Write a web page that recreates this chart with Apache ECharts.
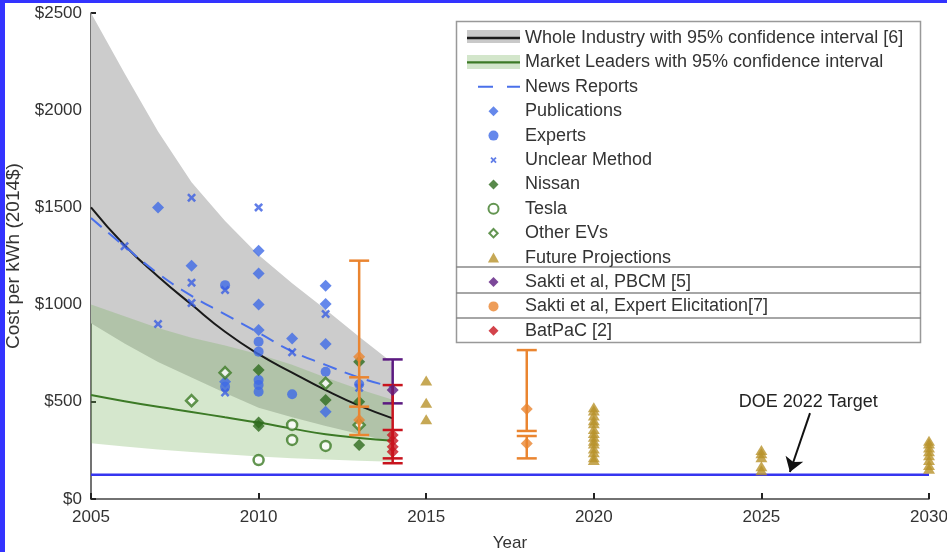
<!DOCTYPE html>
<html>
<head>
<meta charset="utf-8">
<title>Battery pack cost per kWh</title>
<script src="https://cdn.jsdelivr.net/npm/echarts@6.0.0/dist/echarts.min.js"></script>
<style>
  html, body { margin: 0; padding: 0; background: #fff; }
  #wrap { position: relative; width: 947px; height: 552px; overflow: hidden; }
  #chart { position: absolute; left: 0; top: 0; width: 947px; height: 552px; }
  .frame-top { position: absolute; left: 0; top: 0; width: 947px; height: 3px; background: #3333ff; }
  .frame-left { position: absolute; left: 0; top: 0; width: 5px; height: 552px; background: #3333ff; }
</style>
</head>
<body>
<div id="wrap">
  <div id="chart"></div>
  <div class="frame-top"></div>
  <div class="frame-left"></div>
</div>
<script>
// fitted curves, read at each year
const years = [2005, 2006, 2007, 2008, 2009, 2010, 2011, 2012, 2013, 2014];
const wholeIndustry = [1500, 1305, 1145, 1000, 860, 745, 650, 560, 480, 415];
const wholeUpper = [2500, 2190, 1890, 1630, 1430, 1255, 1110, 975, 835, 700];
const wholeLower = [904, 800, 705, 625, 545, 470, 420, 375, 335, 290];
const leaders = [535, 503, 474, 448, 420, 393, 362, 333, 314, 300];
const leadersUpper = [1000, 940, 880, 830, 790, 745, 690, 625, 565, 510];
const leadersLower = [287, 270, 255, 242, 230, 218, 210, 203, 197, 192];
const newsReports = [1445, 1300, 1160, 1045, 950, 855, 760, 690, 625, 575];

// DOE target
const doeYears = [2005, 2030];
const doeTarget = 125;

// scatter points [year, $/kWh]
const publications = [[2007, 1500], [2008, 1200], [2009, 603], [2010, 1277], [2010, 1160], [2010, 1000], [2010, 869],
  [2011, 826], [2012, 1097], [2012, 1003], [2012, 797], [2012, 449]];
const experts = [[2009, 1100], [2009, 578], [2010, 809], [2010, 758], [2010, 612], [2010, 586], [2010, 552],
  [2011, 539], [2012, 655], [2013, 590]];
const unclear = [[2006, 1300], [2007, 900], [2008, 1550], [2008, 1113], [2008, 1008], [2009, 1075], [2009, 548],
  [2010, 1500], [2011, 755], [2012, 952], [2013, 572]];
const nissan = [[2010, 664], [2010, 393], [2010, 376], [2012, 509], [2013, 706], [2013, 500], [2013, 278]];
const tesla = [[2010, 200], [2011, 381], [2011, 304], [2012, 273]];
const otherEVs = [[2008, 506], [2009, 650], [2012, 595], [2013, 381]];
const future = [[2015, 609], [2015, 495], [2015, 410],
  [2020, 472], [2020, 455], [2020, 430], [2020, 405], [2020, 390], [2020, 360], [2020, 340], [2020, 320],
  [2020, 300], [2020, 285], [2020, 260], [2020, 240], [2020, 215], [2020, 200],
  [2025, 252], [2025, 235], [2025, 215], [2025, 168], [2025, 148],
  [2030, 300], [2030, 285], [2030, 265], [2030, 245], [2030, 225], [2030, 200], [2030, 175], [2030, 155]];

// error bars [year, value, low, high]
const saktiPbcm = [[2014, 561, 492, 718]];
const saktiExpert = [[2013, 732, 475, 1226], [2013, 406, 329, 626], [2018, 463, 350, 766], [2018, 286, 209, 324]];
const batpac = [[2014, 300, 184, 586], [2014, 269, 209, 355]];
const batpacExtra = [[2014, 329], [2014, 243]];

// arrow for the DOE label
const arrowFrom = [2026.45, 442];
const arrowTo = [2025.85, 139];
const labelAt = [2026.4, 498];

const font = 'Liberation Sans, Arial, Helvetica, sans-serif';
const blue = '#3f6ae6';
const green = '#3c7a26';
const xPath = 'path://M0,2L2,0L5,3L8,0L10,2L7,5L10,8L8,10L5,7L2,10L0,8L3,5Z';
const diamondIcon = 'path://M5,0L10,5L5,10L0,5Z';
const triangleIcon = 'path://M5,0L10,9L0,9Z';

const N1 = 'Whole Industry with 95% confidence interval [6]';
const N2 = 'Market Leaders with 95% confidence interval';

function bandItem(lower, upper, fill) {
  return function (params, api) {
    if (params.dataIndex !== 0) return null;
    const top = years.map((y, i) => api.coord([y, upper[i]]));
    const bottom = years.map((y, i) => api.coord([y, lower[i]])).reverse();
    return { type: 'polygon', shape: { points: top.concat(bottom) }, style: { fill: fill } };
  };
}

function errorBar(color) {
  return function (params, api) {
    const x = api.value(0);
    const lo = api.coord([x, api.value(2)]);
    const hi = api.coord([x, api.value(3)]);
    const w = 10;
    const st = { stroke: color, lineWidth: 2.5 };
    return {
      type: 'group',
      children: [
        { type: 'line', shape: { x1: lo[0], y1: lo[1], x2: hi[0], y2: hi[1] }, style: st },
        { type: 'line', shape: { x1: lo[0] - w, y1: lo[1], x2: lo[0] + w, y2: lo[1] }, style: st },
        { type: 'line', shape: { x1: hi[0] - w, y1: hi[1], x2: hi[0] + w, y2: hi[1] }, style: st }
      ]
    };
  };
}

const pairs = (vals) => years.map((y, i) => [y, vals[i]]);
const bandData = (lo, hi) => years.map((y, i) => [y, lo[i], hi[i]]);

const chart = echarts.init(document.getElementById('chart'));

const option = {
  animation: false,
  textStyle: { fontFamily: font },
  grid: { left: 91, right: 18, top: 13, bottom: 53, outerBoundsMode: 'none' },
  xAxis: {
    type: 'value', min: 2005, max: 2030, interval: 5,
    name: 'Year', nameLocation: 'middle', nameGap: 36,
    nameTextStyle: { fontSize: 17, color: '#333', fontFamily: font },
    axisLine: { lineStyle: { color: '#444', width: 1.5 } },
    axisTick: { inside: true, length: 6, lineStyle: { color: '#222', width: 2 } },
    axisLabel: { color: '#333', fontSize: 17, margin: 10, fontFamily: font, formatter: (v) => String(v) },
    splitLine: { show: false }
  },
  yAxis: {
    type: 'value', min: 0, max: 2500, interval: 500,
    name: 'Cost per kWh (2014$)', nameLocation: 'middle', nameGap: 68,
    nameTextStyle: { fontSize: 19, color: '#333', fontFamily: font },
    axisLine: { show: true, lineStyle: { color: '#444', width: 1.5 } },
    axisTick: { show: true, inside: true, length: 5, lineStyle: { color: '#222', width: 2 } },
    axisLabel: { color: '#333', fontSize: 17, margin: 9, fontFamily: font, formatter: (v) => '$' + v },
    splitLine: { show: false }
  },
  legend: {
    orient: 'vertical', left: 467, top: 29, padding: 0,
    itemWidth: 53, itemHeight: 10, itemGap: 6.4, selectedMode: false, symbolKeepAspect: true,
    textStyle: { fontSize: 18, color: '#333', fontFamily: font, lineHeight: 14 },
    data: [
      { name: N1, icon: 'path://M0,0h53v2.4H0z' },
      { name: N2, icon: 'path://M0,0h53v2.4H0z' },
      { name: 'News Reports', icon: 'path://M0,1M11,0h15v2H11zM40,0h13v2H40z' },
      { name: 'Publications', icon: diamondIcon },
      { name: 'Experts', icon: 'circle' },
      { name: 'Unclear Method', icon: 'path://M-3,-3M0,2L2,0L5,3L8,0L10,2L7,5L10,8L8,10L5,7L2,10L0,8L3,5ZM13,13' },
      { name: 'Nissan', icon: diamondIcon },
      { name: 'Tesla', icon: 'circle' },
      { name: 'Other EVs', icon: 'path://M-1,-1M5,0L10,5L5,10L0,5ZM11,11' },
      { name: 'Future Projections', icon: triangleIcon },
      { name: 'Sakti et al, PBCM [5]', icon: diamondIcon },
      { name: 'Sakti et al, Expert Elicitation[7]', icon: 'circle' },
      { name: 'BatPaC [2]', icon: diamondIcon }
    ]
  },
  graphic: [
    { type: 'rect', z: 3, shape: { x: 467, y: 30, width: 53, height: 13 }, style: { fill: '#c9c9c9' } },
    { type: 'rect', z: 3, shape: { x: 467, y: 55, width: 53, height: 14 }, style: { fill: '#d3e6cb' } },
    { type: 'rect', z: 3, shape: { x: 456.5, y: 21.5, width: 464, height: 321 }, style: { fill: 'none', stroke: '#999', lineWidth: 1.5 } },
    { type: 'line', z: 3, shape: { x1: 456, y1: 267, x2: 921, y2: 267 }, style: { stroke: '#888', lineWidth: 1.5 } },
    { type: 'line', z: 3, shape: { x1: 456, y1: 293, x2: 921, y2: 293 }, style: { stroke: '#888', lineWidth: 1.5 } },
    { type: 'line', z: 3, shape: { x1: 456, y1: 318, x2: 921, y2: 318 }, style: { stroke: '#888', lineWidth: 1.5 } }
  ],
  series: [
    { name: 'industry band', type: 'custom', z: 1, silent: true, renderItem: bandItem(wholeLower, wholeUpper, '#cccccc'),
      data: bandData(wholeLower, wholeUpper), encode: { x: 0, y: [1, 2] } },
    { name: 'leaders band', type: 'custom', z: 1, silent: true, renderItem: bandItem(leadersLower, leadersUpper, 'rgba(115,175,90,0.3)'),
      data: bandData(leadersLower, leadersUpper), encode: { x: 0, y: [1, 2] } },
    { name: 'DOE target', type: 'line', z: 2, symbol: 'none', data: doeYears.map((y) => [y, doeTarget]),
      lineStyle: { color: '#3535f0', width: 2.5 }, itemStyle: { color: '#3535f0' },
      markLine: {
        silent: true, symbol: ['none', 'arrow'], symbolSize: 14,
        lineStyle: { color: '#111', width: 2, type: 'solid' }, label: { show: false },
        data: [[{ coord: arrowFrom }, { coord: arrowTo }]]
      },
      markPoint: {
        silent: true, symbol: 'circle', symbolSize: 1, itemStyle: { color: 'rgba(0,0,0,0)' },
        label: { show: true, position: 'inside', formatter: 'DOE 2022 Target', color: '#222', fontSize: 18, fontFamily: font },
        data: [{ coord: labelAt }]
      }
    },
    { name: N1, type: 'line', z: 3, smooth: true, symbol: 'none', data: pairs(wholeIndustry),
      lineStyle: { color: '#1a1a1a', width: 2 }, itemStyle: { color: '#1a1a1a' } },
    { name: N2, type: 'line', z: 3, smooth: true, symbol: 'none', data: pairs(leaders),
      lineStyle: { color: green, width: 2 }, itemStyle: { color: green } },
    { name: 'News Reports', type: 'line', z: 3, smooth: true, symbol: 'none', data: pairs(newsReports),
      lineStyle: { color: '#4a70ea', width: 2, type: [14, 9] }, itemStyle: { color: '#4a70ea' } },
    { name: 'Publications', type: 'scatter', z: 4, symbol: 'diamond', symbolSize: 12, data: publications, itemStyle: { color: blue } },
    { name: 'Experts', type: 'scatter', z: 4, symbol: 'circle', symbolSize: 10, data: experts, itemStyle: { color: blue } },
    { name: 'Unclear Method', type: 'scatter', z: 4, symbol: xPath, symbolSize: 9, data: unclear, itemStyle: { color: '#3a5ee2' } },
    { name: 'Nissan', type: 'scatter', z: 4, symbol: 'diamond', symbolSize: 12, data: nissan, itemStyle: { color: '#2e6b1e' } },
    { name: 'Tesla', type: 'scatter', z: 4, symbol: 'circle', symbolSize: 10, data: tesla,
      itemStyle: { color: '#fff', borderColor: green, borderWidth: 2.5 } },
    { name: 'Other EVs', type: 'scatter', z: 4, symbol: 'diamond', symbolSize: 11, data: otherEVs,
      itemStyle: { color: '#fff', borderColor: green, borderWidth: 2.5 } },
    { name: 'Future Projections', type: 'scatter', z: 4, symbol: 'triangle', symbolSize: [12, 10], data: future,
      itemStyle: { color: '#b8922a' } },
    { name: 'Sakti PBCM range', type: 'custom', z: 5, renderItem: errorBar('#5b1a80'), data: saktiPbcm, encode: { x: 0, y: [2, 3] } },
    { name: 'Sakti expert range', type: 'custom', z: 5, renderItem: errorBar('#ea8530'), data: saktiExpert, encode: { x: 0, y: [2, 3] } },
    { name: 'BatPaC range', type: 'custom', z: 5, renderItem: errorBar('#c8141e'), data: batpac, encode: { x: 0, y: [2, 3] } },
    { name: 'Sakti et al, PBCM [5]', type: 'scatter', z: 6, symbol: 'diamond', symbolSize: 12,
      data: saktiPbcm.map((d) => [d[0], d[1]]), itemStyle: { color: '#5b1a80' } },
    { name: 'Sakti et al, Expert Elicitation[7]', type: 'scatter', z: 6, symbol: 'diamond', symbolSize: 12,
      data: saktiExpert.map((d) => [d[0], d[1]]), itemStyle: { color: '#ea8530' } },
    { name: 'BatPaC [2]', type: 'scatter', z: 6, symbol: 'diamond', symbolSize: 12,
      data: batpac.map((d) => [d[0], d[1]]).concat(batpacExtra), itemStyle: { color: '#c8141e' } }
  ]
};

chart.setOption(option);
</script>
</body>
</html>
